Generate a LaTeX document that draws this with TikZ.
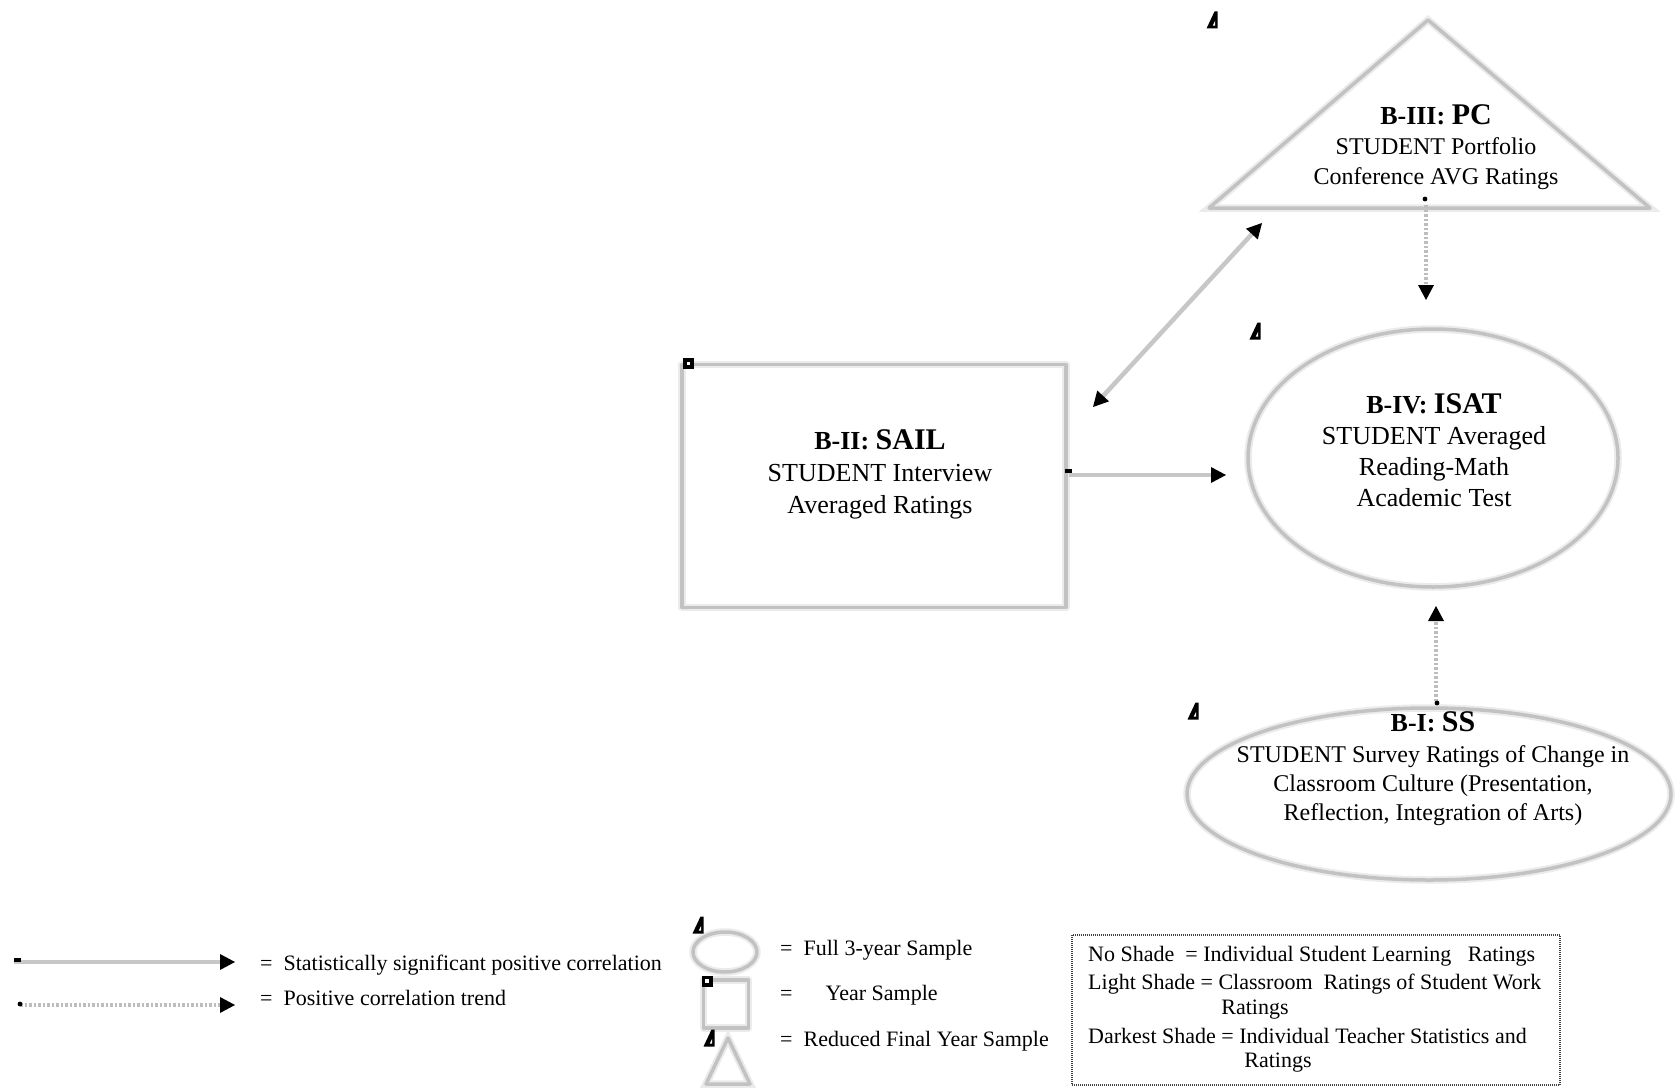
\documentclass[tikz,border=0pt]{standalone}
\usepackage{fontspec}
\setmainfont{Liberation Serif}
\usetikzlibrary{arrows.meta,shapes.geometric}
% bold block heading: small prefix, larger code
\newcommand{\blocktitle}[2]{{\fontsize{26}{31}\selectfont\bfseries #1\fontsize{30}{31}\selectfont #2}}
\begin{document}
\begin{tikzpicture}[x=1pt,y=-1pt,
  >={Triangle[length=15pt,width=16pt,color=black,line width=0pt]},
  soft/.style={draw=black!24, line width=3.5pt, line join=round,
    preaction={draw=black!8, line width=7.5pt}},
  sig/.style={draw=black!22, line width=4.5pt},
  trend/.style={draw=black!26, line width=4pt, dash pattern=on 2.5pt off 2pt},
  blocktext/.style={align=center, inner sep=0pt},
  legendtext/.style={font=\fontsize{22}{26}\selectfont, inner sep=0pt, anchor=west},
  keybox/.style={draw=black!75, line width=2.5pt, dash pattern=on 1pt off 1pt},
  deltamark/.pic={\fill[black] (-5.5,8.5) -- (5.5,8.5) -- (5.5,-8.5) -- (2.5,-8.5) -- cycle;
                  \fill[white] (0.8,5.6) -- (3.2,5.6) -- (3.2,0.8) -- cycle;},
  squaremark/.pic={\fill[black] (-5.5,-5.5) rectangle (5.5,5.5);
                   \fill[white] (-1.6,-1.6) rectangle (1.6,1.6);},
  dashmark/.pic={\fill[black] (-3.5,-2) rectangle (3.5,2);},
  dotmark/.pic={\fill[black] (0,0) circle (2.4);}
]
\fill[white] (0,0) rectangle (1680,1089);
\useasboundingbox (0,0) rectangle (1680,1089);

% ---------- blocks ----------
% B-III: portfolio conference (triangle)
\coordinate (pcL) at (1209,208);
\coordinate (pcTop) at (1428,20);
\coordinate (pcR) at (1650,208);
\draw[soft] (pcL) -- (pcTop) -- (pcR) -- cycle;
\node[blocktext, font=\fontsize{24}{30}\selectfont] (pclabel) at (1436,147)
  {\blocktitle{B-III: }{PC}\\STUDENT Portfolio\\Conference AVG Ratings};
\pic at (1212,20) {deltamark};

% B-II: student interview (rectangle)
\node[soft, rectangle, minimum width=384pt, minimum height=243pt, inner sep=0pt] (sail) at (874,486) {};
\node[blocktext, font=\fontsize{26}{32}\selectfont] (saillabel) at (880,474)
  {\blocktitle{B-II: }{SAIL}\\STUDENT Interview\\Averaged Ratings};
\pic at (688.5,363.5) {squaremark};

% B-IV: academic test (ellipse)
\node[soft, ellipse, minimum width=370pt, minimum height=258pt, inner sep=0pt] (isat) at (1433,458) {};
\node[blocktext, font=\fontsize{26}{31}\selectfont] (isatlabel) at (1434,450)
  {\blocktitle{B-IV: }{ISAT}\\STUDENT Averaged\\Reading-Math\\Academic Test};
\pic at (1255,331) {deltamark};

% B-I: student survey (wide ellipse)
\node[soft, ellipse, minimum width=484pt, minimum height=172pt, inner sep=0pt] (ss) at (1429,794) {};
\node[blocktext, font=\fontsize{24}{29}\selectfont] (sslabel) at (1433,769)
  {\blocktitle{B-I: }{SS}\\[2pt]STUDENT Survey Ratings of Change in\\Classroom Culture (Presentation,\\Reflection, Integration of Arts)};
\pic at (1193,711) {deltamark};

% ---------- connectors ----------
\coordinate (sailOut) at (1069,475);
\coordinate (isatIn) at (1226,475);
\draw[sig,->] (sailOut) -- (isatIn);
\pic at (1068,471) {dashmark};

\coordinate (sailCorner) at (1093,407);
\coordinate (pcCorner) at (1262,223);
\draw[sig,<->] (sailCorner) -- (pcCorner);

\coordinate (pcBase) at (1426,205);
\coordinate (isatTop) at (1426,300);
\draw[trend,->] (pcBase) -- (isatTop);
\pic at (1425,199) {dotmark};

\coordinate (ssTop) at (1436,701);
\coordinate (isatBottom) at (1436,606);
\draw[trend,->] (ssTop) -- (isatBottom);
\pic at (1437,703) {dotmark};

% ---------- legend: connectors ----------
\coordinate (sigFrom) at (14,962);
\coordinate (sigTo) at (235,962);
\draw[sig,->] (sigFrom) -- (sigTo);
\pic at (17,960) {dashmark};
\node[legendtext] (sigkey) at (260,965) {=\ \ Statistically significant positive correlation};

\coordinate (trendFrom) at (20,1005);
\coordinate (trendTo) at (235,1005);
\draw[trend,->] (trendFrom) -- (trendTo);
\pic at (20,1004) {dotmark};
\node[legendtext] (trendkey) at (260,998) {=\ \ Positive correlation trend};

% ---------- legend: sample shapes ----------
\node[soft, ellipse, minimum width=64pt, minimum height=40pt, inner sep=0pt] (fullshape) at (725,952) {};
\pic at (698,925) {deltamark};
\node[legendtext] (fullkey) at (780,950) {=\ \ Full 3-year Sample};

\node[soft, rectangle, minimum width=45pt, minimum height=48pt, inner sep=0pt] (yearshape) at (726,1004) {};
\pic at (707,981) {squaremark};
\node[legendtext] (yearkey) at (780,995) {=\ \ \ \ \ \ Year Sample};

\coordinate (redL) at (706,1084);
\coordinate (redTop) at (728,1038);
\coordinate (redR) at (750,1084);
\draw[soft] (redL) -- (redTop) -- (redR) -- cycle;
\pic at (709,1038) {deltamark};
\node[legendtext] (reducedkey) at (780,1041) {=\ \ Reduced Final Year Sample};

% ---------- legend: shading key ----------
\node[keybox, minimum width=488pt, minimum height=150pt, inner sep=0pt] (shadekey) at (1316,1010) {};
\node[legendtext] (noshade) at (1088,956) {No Shade\ \ = Individual Student Learning\ \ \ Ratings};
\node[legendtext] (lightshade) at (1088,984) {Light Shade = Classroom\ \ Ratings of Student Work};
\node[legendtext, anchor=center] (lightcont) at (1255,1010) {Ratings};
\node[legendtext] (darkshade) at (1088,1036) {Darkest Shade = Individual Teacher Statistics and};
\node[legendtext, anchor=center] (darkcont) at (1278,1063) {Ratings};
\end{tikzpicture}
\end{document}
